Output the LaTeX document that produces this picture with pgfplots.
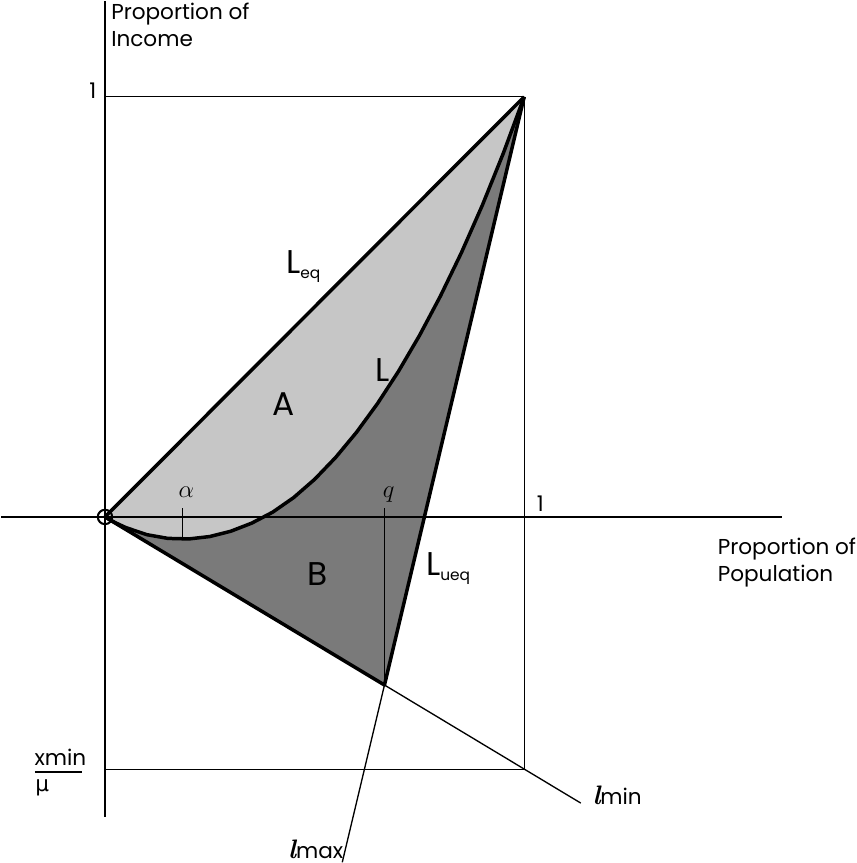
\documentclass[border=0pt]{standalone}
\usepackage{pgfplots}
\pgfplotsset{compat=1.18}
\usepgfplotslibrary{fillbetween}
\usepackage{pgfplotstable}
\usepackage{fontspec}
\setmainfont{Poppins}
\newfontfamily\dejavu{DejaVu Sans}
\newfontfamily\lmr{Latin Modern Roman}
\definecolor{lightfill}{HTML}{C6C6C6}
\definecolor{darkfill}{HTML}{7A7A7A}

\pgfplotstableread{
p L
0.000 0.0000
0.025 -0.0138
0.050 -0.0254
0.100 -0.0422
0.150 -0.0510
0.200 -0.0523
0.250 -0.0466
0.300 -0.0340
0.350 -0.0147
0.400 0.0114
0.450 0.0461
0.500 0.0895
0.550 0.1414
0.600 0.2015
0.650 0.2698
0.700 0.3464
0.750 0.4315
0.800 0.5254
0.850 0.6285
0.900 0.7415
0.950 0.8651
1.000 1.0000
}\Ltab

\begin{document}
\begin{tikzpicture}
\begin{axis}[
  width=419.5pt, height=431.5pt, scale only axis,
  xmin=-0.272, xmax=1.784, ymin=-0.851, ymax=1.259,
  axis lines=none, clip=false,
  every axis plot/.append style={mark=none},
]
% paths for fills
\addplot[name path=Lc, draw=none] table[x=p,y=L] {\Ltab};
\addplot[name path=Leq, draw=none] coordinates {(0,0) (1,1)};
\addplot[name path=Tri, draw=none] coordinates {(0,0) (0.6667,-0.4) (1,1)};
\addplot[lightfill] fill between[of=Leq and Lc];
\addplot[darkfill] fill between[of=Lc and Tri];

% thin frame lines
\addplot[black, line width=0.5pt] coordinates {(0,1) (1,1)};
\addplot[black, line width=0.6pt] coordinates {(1,1) (1,-0.6)};
\addplot[black, line width=0.5pt] coordinates {(0,-0.6) (1,-0.6)};
\addplot[black, line width=0.65pt] coordinates {(0.6667,-0.4) (1.135,-0.681)};
\addplot[black, line width=0.65pt] coordinates {(0.6667,-0.4) (0.566,-0.822)};
% ticks alpha and q
\addplot[black, line width=0.6pt] coordinates {(0.6667,-0.4) (0.6667,0.022)};
\addplot[black, line width=0.6pt] coordinates {(0.184,-0.056) (0.184,0.022)};
% axes
\addplot[black, line width=1pt] coordinates {(-0.248,0) (1.615,0)};
\addplot[black, line width=1pt] coordinates {(0,-0.714) (0,1.228)};
% thick curves
\addplot[black, line width=1.7pt] coordinates {(0,0) (1,1)};
\addplot[black, line width=1.7pt] table[x=p,y=L] {\Ltab};
\addplot[black, line width=1.7pt, line join=round] coordinates {(0,0) (0.6667,-0.4) (1,1)};
\draw[line width=1pt] (axis cs:0,0) circle[radius=3.5pt];

% labels
\node[anchor=north west, align=left, inner sep=0pt, font=\fontsize{10.5}{13.5}\selectfont] at (axis cs:0.014,1.225) {Proportion of\\Income};
\node[anchor=base east, inner sep=0pt, font=\fontsize{10.5}{12}\selectfont] at (axis cs:-0.02,0.995) {1};
\node[anchor=base west, inner sep=0pt, font=\fontsize{10.5}{12}\selectfont] at (axis cs:1.029,0.012) {1};
\node[anchor=north west, align=left, inner sep=0pt, font=\fontsize{10.5}{13}\selectfont] at (axis cs:1.461,-0.050) {Proportion of\\Population};
\node[anchor=base west, inner sep=0pt, font=\fontsize{10.5}{12}\selectfont] at (axis cs:-0.169,-0.592) {xmin};
\draw[line width=1pt] (axis cs:-0.167,-0.606) -- (axis cs:-0.054,-0.606);
\node[anchor=base west, inner sep=0pt, font=\fontsize{10.5}{12}\selectfont] at (axis cs:-0.167,-0.654) {\dejavu μ};

\node[anchor=base west, inner sep=0pt] at (axis cs:0.431,0.579) {{\fontsize{16}{16}\selectfont L}\raisebox{-2.5pt}{\fontsize{7.5}{8}\selectfont eq}};
\node[anchor=base west, inner sep=0pt] at (axis cs:0.765,-0.139) {{\fontsize{16}{16}\selectfont L}\raisebox{-2.5pt}{\fontsize{7.5}{8}\selectfont ueq}};
\node[inner sep=0pt, font=\fontsize{16}{16}\selectfont] at (axis cs:0.426,0.269) {A};
\node[inner sep=0pt, font=\fontsize{16}{16}\selectfont] at (axis cs:0.662,0.350) {L};
\node[inner sep=0pt, font=\fontsize{16}{16}\selectfont] at (axis cs:0.507,-0.135) {B};
\node[inner sep=0pt, font=\fontsize{13}{13}\selectfont] at (axis cs:0.194,0.059) {$\alpha$};
\node[inner sep=0pt, font=\fontsize{13}{13}\selectfont] at (axis cs:0.677,0.054) {$q$};
\node[anchor=base west, inner sep=0pt, font=\fontsize{10.5}{12}\selectfont] at (axis cs:1.162,-0.685) {{\lmr\bfseries\itshape\fontsize{13}{13}\selectfont l}min};
\node[anchor=base west, inner sep=0pt, font=\fontsize{10.5}{12}\selectfont] at (axis cs:0.436,-0.812) {{\lmr\bfseries\itshape\fontsize{13}{13}\selectfont l}max};
\end{axis}
\end{tikzpicture}
\end{document}
